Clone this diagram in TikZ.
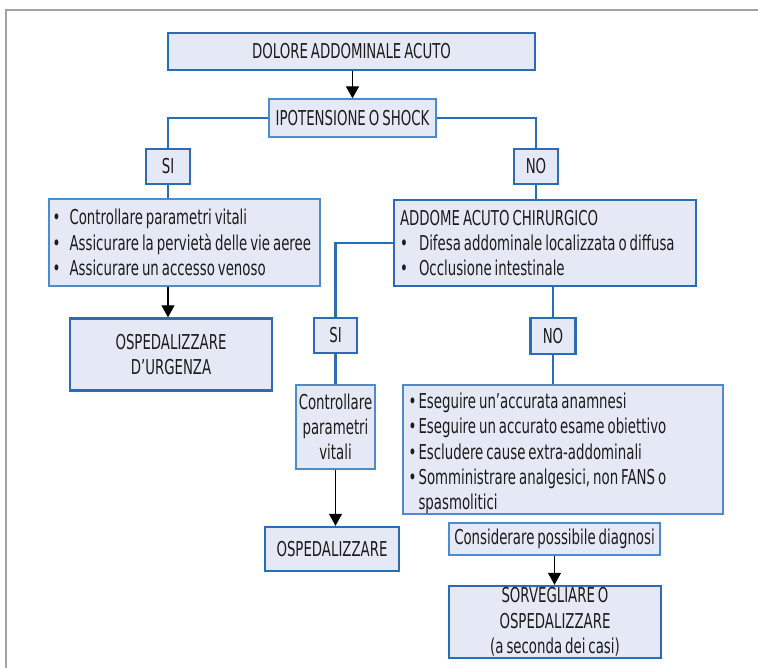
\documentclass[tikz,border=0pt]{standalone}
\usepackage{fontspec}
\setmainfont{DejaVu Sans}[FakeStretch=0.65, WordSpace=0.7]
\usetikzlibrary{arrows.meta}
\definecolor{boxfill}{HTML}{E5E9F5}
\definecolor{boxedge}{HTML}{2A6DB5}
\definecolor{thinedge}{HTML}{4F8AC9}
\definecolor{framegray}{HTML}{A3A3A3}
\definecolor{ink}{HTML}{1C1C1C}
\newcommand{\bul}[1]{\makebox[#1][l]{•}}
\tikzset{
  base/.style={fill=boxfill, text=ink, inner sep=0pt,
    font=\fontsize{20.5}{25.3}\selectfont},
  thick box/.style={base, draw=boxedge, line width=2.4pt},
  thin box/.style={base, draw=thinedge, line width=1.3pt},
  list text/.style={anchor=west, inner sep=0pt, align=left, text=ink,
    font=\fontsize{20.5}{25.3}\selectfont},
  link/.style={draw=boxedge, line width=2.2pt},
  flow/.style={draw=black, line width=1.2pt,
    -{Triangle[width=13pt,length=12pt]}},
}
\begin{document}
\begin{tikzpicture}[x=1pt,y=-1pt]
  \useasboundingbox (0,0) rectangle (758,668);
  % outer frame (left and top edges)
  \draw[framegray, line width=2pt] (5.5,668) -- (5.5,10.5) -- (758,10.5);

  % boxes
  \node[thick box, minimum width=367pt, minimum height=37pt] (dolore) at (351.5,51.5) {DOLORE ADDOMINALE ACUTO};
  \node[thin box, minimum width=167pt, minimum height=38pt] (ipot) at (352.5,118) {IPOTENSIONE O SHOCK};
  \node[thick box, minimum width=44pt, minimum height=35pt] (si1) at (168,166.5) {SI};
  \node[thick box, minimum width=44pt, minimum height=35pt] (no1) at (536,166.5) {NO};

  \node[thin box, minimum width=271pt, minimum height=87pt] (care) at (184.5,242.5) {};
  \node[list text] (caretext) at ([xshift=4pt]care.west)
    {\bul{17pt}Controllare parametri vitali\\
     \bul{17pt}Assicurare la pervietà delle vie aeree\\
     \bul{17pt}Assicurare un accesso venoso};
  \node[thick box, minimum width=202pt, minimum height=72pt, align=center] (urg) at (171,354.5)
    {OSPEDALIZZARE\\D’URGENZA};

  \node[thick box, minimum width=302pt, minimum height=86pt] (addome) at (545,243) {};
  \node[list text] (addometext) at ([xshift=7pt]addome.west)
    {ADDOME ACUTO CHIRURGICO\\
     \bul{19pt}Difesa addominale localizzata o diffusa\\
     \bul{19pt}Occlusione intestinale};

  \node[thick box, minimum width=43pt, minimum height=35pt] (si2) at (335.5,335.5) {SI};
  \node[thick box, minimum width=45pt, minimum height=36pt] (no2) at (553,336) {NO};

  \node[thin box, minimum width=79pt, minimum height=84pt, align=center] (ctrl) at (335.5,427)
    {Controllare\\parametri\\vitali};
  \node[thin box, minimum width=320pt, minimum height=129pt] (esegui) at (563,449.5) {};
  \node[list text] (eseguitext) at ([xshift=6pt,yshift=-4pt]esegui.west)
    {\bul{10pt}Eseguire un’accurata anamnesi\\
     \bul{10pt}Eseguire un accurato esame obiettivo\\
     \bul{10pt}Escludere cause extra-addominali\\
     \bul{10pt}Somministrare analgesici, non FANS o\\
     \hspace*{10pt}spasmolitici};

  \node[thick box, minimum width=134pt, minimum height=44pt] (osp) at (332,549) {OSPEDALIZZARE};
  \node[thin box, minimum width=211pt, minimum height=32pt] (consid) at (554.5,539) {Considerare possibile diagnosi};
  \node[thick box, minimum width=212pt, minimum height=72pt, align=center] (sorv) at (555,622)
    {SORVEGLIARE O\\OSPEDALIZZARE\\(a seconda dei casi)};

  % connectors
  \draw[flow] (dolore.south -| ipot.north) -- (ipot.north);
  \draw[link] (ipot.west) -| (si1.north);
  \draw[link] (ipot.east) -| (no1.north);
  \draw[link] (si1.south) -- (si1.south |- care.north);
  \draw[flow] (si1.south |- care.south) -- (si1.south |- urg.north);
  \draw[link] (no1.south) -- (no1.south |- addome.north);
  \draw[link] (addome.west) -| (si2.north);
  \draw[link] (si2.south) -- (si2.south |- ctrl.north);
  \draw[link] (no2.north |- addome.south) -- (no2.north);
  \draw[link] (no2.south) -- (no2.south |- esegui.north);
  \draw[flow] (ctrl.south) -- (ctrl.south |- osp.north);
  \draw[flow] (consid.south) -- (consid.south |- sorv.north);
\end{tikzpicture}
\end{document}
